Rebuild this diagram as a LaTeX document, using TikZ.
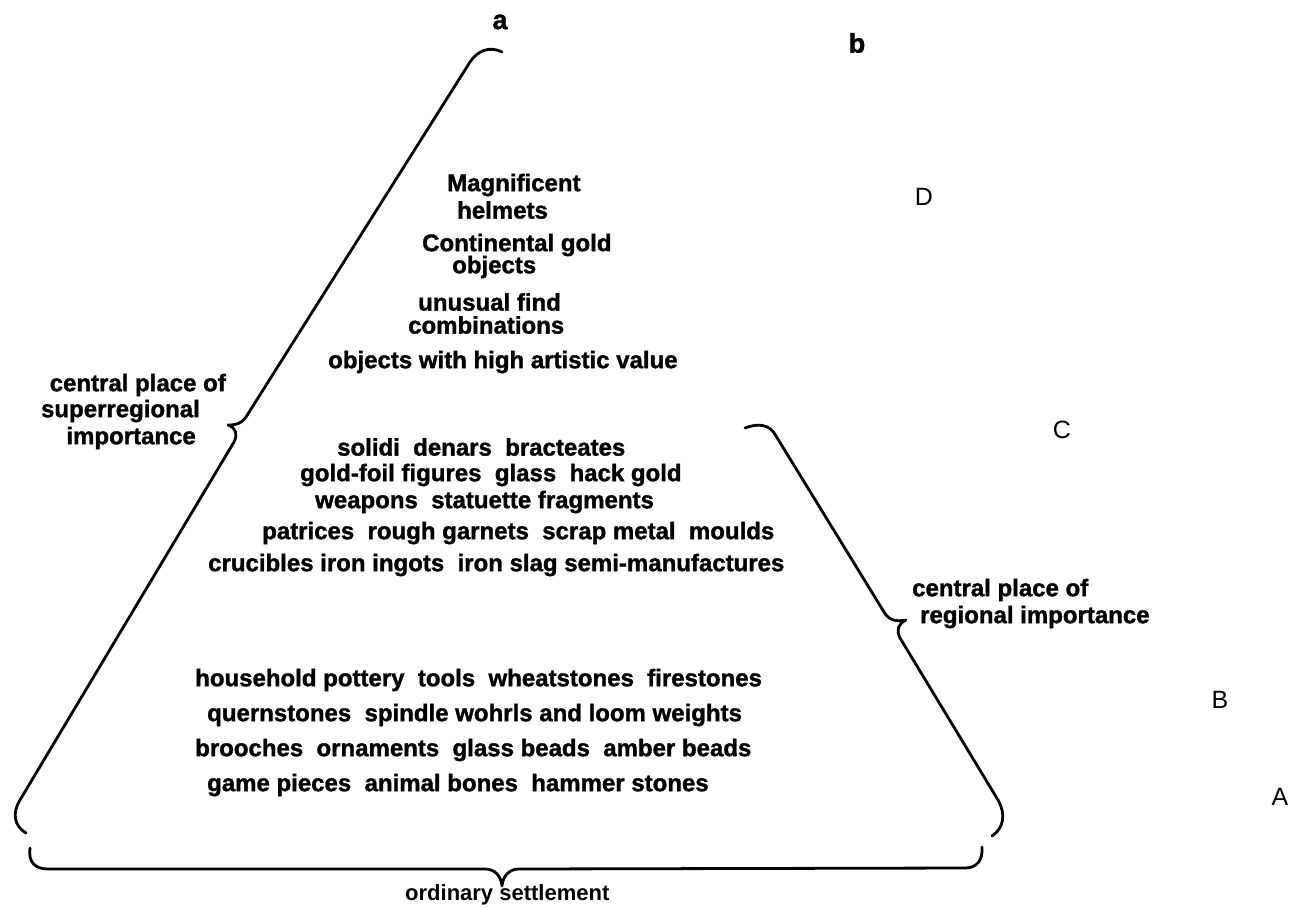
\documentclass[tikz,border=0pt]{standalone}
\usepackage{fontspec}
\setmainfont{Liberation Sans}
\newfontface\heavyfont{Liberation Sans Bold}[FakeBold=1.4]
\begin{document}
\begin{tikzpicture}[x=1pt,y=-1pt,
  item/.style={anchor=west,inner sep=0pt,font=\fontsize{24}{28}\heavyfont},
  lbl/.style={inner sep=0pt,font=\fontsize{24}{28}\heavyfont},
  letter/.style={inner sep=0pt,font=\fontsize{25}{28}\selectfont},
  toplet/.style={inner sep=0pt,font=\fontsize{27}{28}\heavyfont},
  brace/.style={line width=2.8pt,line cap=round,line join=round}]
\path[use as bounding box] (0,0) rectangle (1306,908);

% top letters
\node[toplet] (la) at (500,22) {a};
\node[toplet] (lb) at (857,43) {b};
% side letters
\node[letter] (lD) at (924,197) {D};
\node[letter] (lC) at (1062,430) {C};
\node[letter] (lB) at (1220,700) {B};
\node[letter] (lA) at (1280,797) {A};

% braces
\draw[brace] (502,52) .. controls (490,46) and (478,50) .. (470,62)
  -- (246,417) .. controls (241,424) and (236,425) .. (228,425)
  .. controls (236,428) and (238,434) .. (234,442)
  -- (20,800) .. controls (12,813) and (14,826) .. (26,833);
\draw[brace] (745,428) .. controls (758,423) and (770,424) .. (776,436)
  -- (884,612) .. controls (889,620) and (895,622) .. (906,620)
  .. controls (898,624) and (896,630) .. (900,638)
  -- (998,800) .. controls (1006,814) and (1004,828) .. (992,836);
\draw[brace] (30,848) .. controls (28,862) and (35,869) .. (48,869)
  -- (485,869) .. controls (495,869) and (501,876) .. (502,886)
  .. controls (503,876) and (509,869) .. (519,869)
  -- (965,868) .. controls (977,868) and (983,860) .. (982,847);

% brace labels
\node[lbl,anchor=east] (s1) at (226,385) {central place of};
\node[lbl,anchor=east] (s2) at (200,411) {superregional};
\node[lbl,anchor=east] (s3) at (196,438) {importance};
\node[lbl,anchor=west] (r1) at (912,590) {central place of};
\node[lbl,anchor=west] (r2) at (920,617) {regional importance};
\node[inner sep=0pt,font=\fontsize{22}{26}\bfseries,anchor=west] (ord) at (405,895) {ordinary settlement};

% items D
\node[item] (i1) at (447,185) {Magnificent};
\node[item] (i2) at (457,210) {helmets};
\node[item] (i3) at (422,245) {Continental gold};
\node[item] (i4) at (452,267) {objects};
\node[item] (i5) at (418,302) {unusual find};
\node[item] (i6) at (408,325) {combinations};
\node[item] (i7) at (328,362) {objects with high artistic value};
% items C
\node[item] (i8) at (337,447) {solidi~~denars~~bracteates};
\node[item] (i9) at (300,475) {gold-foil figures~~glass~~hack gold};
\node[item] (i10) at (315,502) {weapons~~statuette fragments};
\node[item] (i11) at (262,533) {patrices~~rough garnets~~scrap metal~~moulds};
\node[item] (i12) at (208,565) {crucibles iron ingots~~iron slag semi-manufactures};
% items B/A
\node[item] (i13) at (195,680) {household pottery~~tools~~wheatstones~~firestones};
\node[item] (i14) at (207,715) {quernstones~~spindle wohrls and loom weights};
\node[item] (i15) at (195,750) {brooches~~ornaments~~glass beads~~amber beads};
\node[item] (i16) at (207,785) {game pieces~~animal bones~~hammer stones};
\end{tikzpicture}
\end{document}
